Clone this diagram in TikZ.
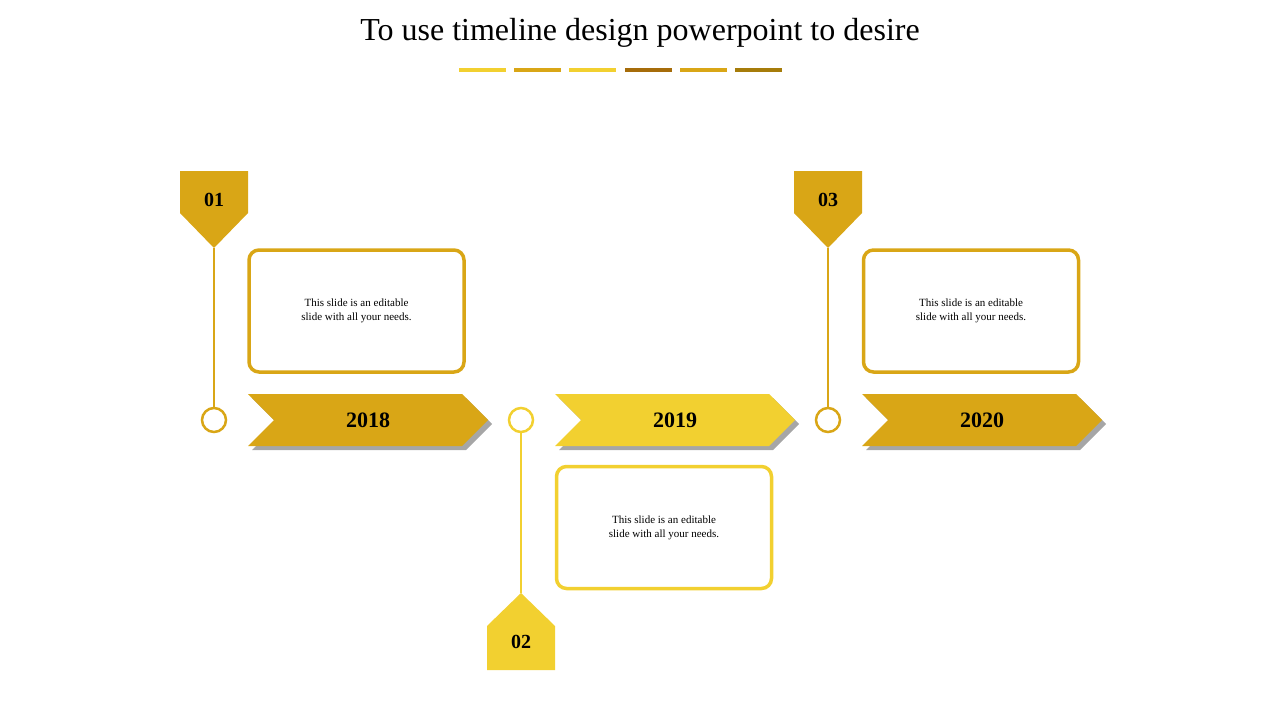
\documentclass[tikz,border=0pt]{standalone}
\usepackage{fontspec}
\setmainfont{Liberation Serif}
\usetikzlibrary{calc}
\definecolor{gold}{HTML}{D9A616}
\definecolor{lightgold}{HTML}{F2D030}
\definecolor{brown}{HTML}{A66C0A}
\definecolor{olive}{HTML}{A67C0A}
\tikzset{
    tagtext/.style={font=\fontsize{20}{22}\selectfont\bfseries},
    yeartext/.style={font=\fontsize{22}{24}\selectfont\bfseries},
    bodytext/.style={font=\fontsize{11}{14}\selectfont, align=center},
    infobox/.style={draw=#1, line width=3.5pt, rounded corners=10pt, fill=white, minimum width=215pt, minimum height=122pt, bodytext},
}
\begin{document}
\begin{tikzpicture}[x=1pt, y=-1pt]
    \useasboundingbox (0,0) rectangle (1280,720);
    \node[font=\fontsize{32}{36}\selectfont] (title) at (640,33) {To use timeline design powerpoint to desire};
    \foreach \x/\c in {459/lightgold, 514/gold, 569/lightgold, 625/brown, 680/gold, 735/olive}{
        \fill[\c](\x, 68) rectangle (\x+47, 72);
    }

    % chevrons
    \foreach \x/\c/\yr in {248/gold/2018, 555/lightgold/2019, 862/gold/2020}{
        \fill[black!35](\x+4, 398) -- (\x+218, 398) -- (\x+244, 424) -- (\x+218, 450) -- (\x+4, 450) -- (\x+30, 424) -- cycle;
        \fill[\c](\x, 394) -- (\x+214, 394) -- (\x+240, 420) -- (\x+214, 446) -- (\x, 446) -- (\x+26, 420) -- cycle;
        \node[yeartext] (y\yr) at (\x+120, 420) {\yr};
    }

    % top tags
    \foreach \x/\c/\n in {214/gold/01, 828/gold/03}{
        \fill[\c](\x-34, 171) -- (\x+34, 171) -- (\x+34, 213) -- (\x, 248) -- (\x-34, 213) -- cycle;
        \node[tagtext] (t\n) at (\x, 200) {\n};
        \node[circle, draw=\c, line width=2.5pt, minimum size=24pt, inner sep=0pt] (c\n) at (\x, 420) {};
        \draw[\c, line width=2pt](\x, 248) -- (c\n.north);
    }
    \fill[lightgold](487, 670) -- (555, 670) -- (555, 626) -- (521, 593) -- (487, 626) -- cycle;
    \node[tagtext] (t02) at (521, 642) {02};
    \node[circle, draw=lightgold, line width=2.5pt, minimum size=24pt, inner sep=0pt] (c02) at (521, 420) {};
    \draw[lightgold, line width=2pt](c02.south) -- (521, 593);

    % text boxes
    \node[infobox=gold] (b1) at (356.5, 311) {This slide is an editable\\slide with all your needs.};
    \node[infobox=lightgold] (b2) at (664, 527.5) {This slide is an editable\\slide with all your needs.};
    \node[infobox=gold] (b3) at (971, 311) {This slide is an editable\\slide with all your needs.};
\end{tikzpicture}
\end{document}
